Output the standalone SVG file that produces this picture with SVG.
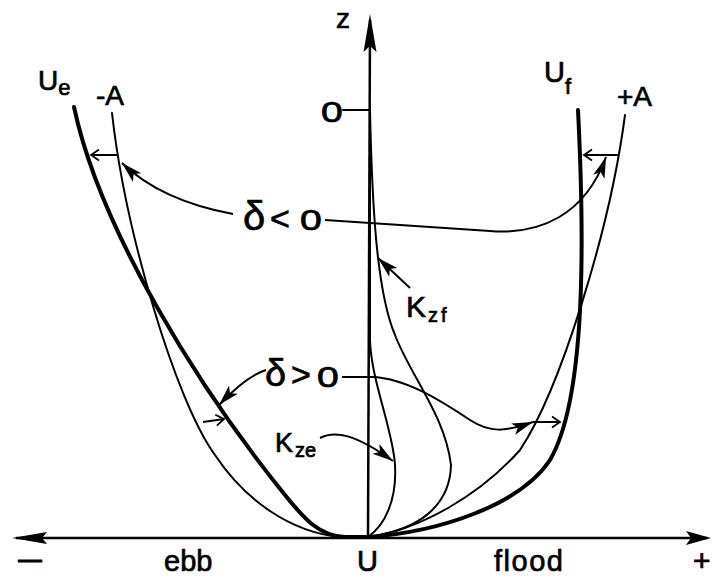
<svg xmlns="http://www.w3.org/2000/svg" width="713" height="578" viewBox="0 0 713 578">
<style>
.lbl{font-family:"Liberation Sans","DejaVu Sans",Arial,sans-serif;fill:#000;stroke:#000;stroke-width:0.7}
.thick{fill:none;stroke:#000;stroke-width:4;stroke-linecap:round;stroke-linejoin:round}
.thin{fill:none;stroke:#000;stroke-width:2;stroke-linecap:round;stroke-linejoin:round}
.ax{fill:none;stroke:#000;stroke-width:2.5}
.conn{fill:none;stroke:#000;stroke-width:2}
</style>
<defs>
<marker id="fa" markerUnits="userSpaceOnUse" viewBox="-22 -8 24 16" refX="0" refY="0" markerWidth="24" markerHeight="16" orient="auto" overflow="visible">
<path d="M0,0 L-21,-6 L-16,0 L-21,6 Z" fill="#000"/>
</marker>
<marker id="oa" markerUnits="userSpaceOnUse" viewBox="-10 -7 12 14" refX="0" refY="0" markerWidth="12" markerHeight="14" orient="auto" overflow="visible">
<path d="M-8,-5.5 L0,0 L-8,5.5" fill="none" stroke="#000" stroke-width="1.8"/>
</marker>
</defs>
<rect width="713" height="578" fill="#fff"/>

<g id="axes">
<line class="ax" x1="16" y1="538" x2="707" y2="538"/>
<polygon points="12,538 47,532 42,538 47,544" fill="#000"/>
<polygon points="711,538 686,531 691,538 686,545" fill="#000"/>
<line class="ax" x1="368" y1="538" x2="370" y2="20"/>
<polygon points="370,14 376.5,52 370,46 363.5,52" fill="#000"/>
<line class="thin" x1="343" y1="110" x2="370" y2="110"/>
</g>

<g id="profiles">
<path id="Ue-curve" class="thick" d="M74,107 C100,230 200,390 285,495 C305,520 320,536 345,537 L368,537"/>
<path id="minusA-curve" class="thin" d="M112,113 C125,230 175,400 215,455 C245,500 290,532 340,537 L368,537"/>
<path id="Uf-curve" class="thick" d="M578,110 C585,250 585,400 550,460 C520,505 440,532 368,537"/>
<path id="plusA-curve" class="thin" d="M625,115 C610,230 560,390 520,450 C480,495 420,530 368,537"/>
<path id="Kzf-curve" class="thin" d="M370,110 C372,200 376,290 395,335 C410,375 445,415 451,465 C450,505 420,530 368,537"/>
<path id="Kze-curve" class="thin" d="M370,110 L370,340 C371,380 393,430 395,465 C397,500 385,525 368,537"/>
</g>

<g id="connectors">
<path class="conn" d="M117,155 L91,155" marker-end="url(#oa)"/>
<path class="conn" d="M618,155 L584,155" marker-end="url(#oa)"/>
<path class="conn" d="M203,422 L224,419" marker-end="url(#oa)"/>
<path class="conn" d="M533,422 L560,422" marker-end="url(#oa)"/>
<path class="conn" d="M233,214 C190,206 150,190 122,163" marker-end="url(#fa)"/>
<path class="conn" d="M325,220 L490,231 C540,235 585,215 606,157" marker-end="url(#fa)"/>
<path class="conn" d="M266,370 C250,375 235,388 219,405" marker-end="url(#fa)"/>
<path class="conn" d="M342,377 L372,377 C405,378 440,400 470,420 C490,433 505,432 533,422" marker-end="url(#fa)"/>
<path class="conn" d="M410,288 L378,258" marker-end="url(#fa)"/>
<path class="conn" d="M320,438 C335,430 355,434 393,461" marker-end="url(#fa)"/>
</g>

<g id="labels">
<text class="lbl" x="336" y="28" font-size="28">z</text>
<text class="lbl" transform="translate(321,122) scale(1.35,1)" font-size="29">0</text>
<text class="lbl" x="38" y="90" font-size="28">U<tspan font-size="22" dy="5">e</tspan></text>
<text class="lbl" x="96" y="105" font-size="28">-A</text>
<text class="lbl" x="544" y="82" font-size="29">U<tspan font-size="22" dy="12">f</tspan></text>
<text class="lbl" x="617" y="106" font-size="28">+A</text>
<g id="delta-neg">
<text class="lbl" x="243" y="230" font-size="40">δ</text>
<text class="lbl" x="270" y="230" font-size="34">&lt;</text>
<text class="lbl" transform="translate(300,230) scale(1.35,1)" font-size="29">0</text>
</g>
<g id="delta-pos">
<text class="lbl" x="265" y="386" font-size="38">δ</text>
<text class="lbl" x="291" y="386" font-size="34">&gt;</text>
<text class="lbl" transform="translate(317,387) scale(1.35,1)" font-size="29">0</text>
</g>
<text class="lbl" x="406" y="317" font-size="30">K<tspan font-size="20" dx="2" dy="5" letter-spacing="3">zf</tspan></text>
<text class="lbl" x="275" y="452" font-size="27">K<tspan font-size="20" dx="2" dy="5">ze</tspan></text>
<text class="lbl" transform="translate(16,571) scale(1.6,1)" font-size="30">−</text>
<text class="lbl" x="164" y="571" font-size="29">ebb</text>
<text class="lbl" x="357" y="571" font-size="29">U</text>
<text class="lbl" x="494" y="571" font-size="29" letter-spacing="1.5">flood</text>
<text class="lbl" x="693" y="571" font-size="30">+</text>
</g>
</svg>
